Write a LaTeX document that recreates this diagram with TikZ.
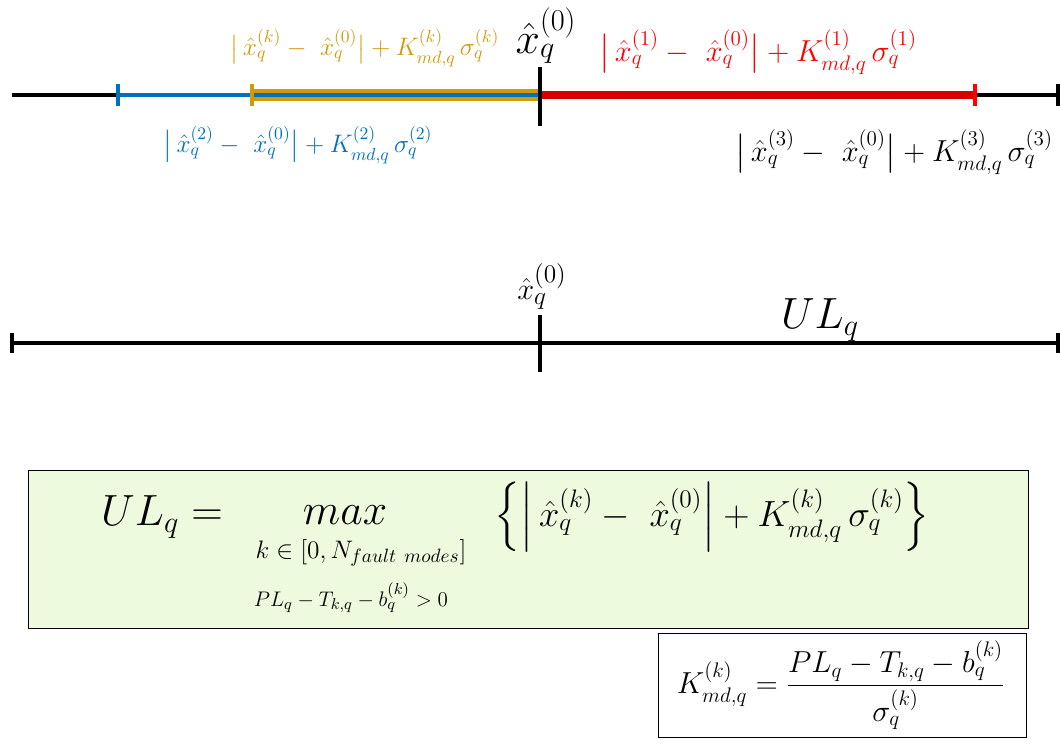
\documentclass[tikz,border=0pt]{standalone}
\usepackage{amsmath,amssymb}
\usepackage{xcolor}
\usepackage{tikz}
\usetikzlibrary{calc,positioning}
\definecolor{bluex}{HTML}{0070C0}
\definecolor{goldx}{HTML}{D09A0C}
\definecolor{redx}{HTML}{D60000}
\definecolor{redt}{HTML}{FF0000}
\definecolor{greenbg}{HTML}{EEFADD}
\newcommand{\devterm}[2][\big]{#1|\,\hat{x}_q^{(#2)}-\ \hat{x}_q^{(0)}#1|+K_{md,q}^{(#2)}\,\sigma_q^{(#2)}}
\tikzset{
  ax/.style={line width=2.3pt,black},
  tk/.style={line width=2.3pt},
  lbl/.style={inner sep=1pt},
  fbox/.style={draw=black,line width=0.8pt}
}
\begin{document}
\begin{tikzpicture}[x=0.02cm,y=-0.02cm]
\useasboundingbox (0,0) rectangle (1060,747);
% top axis
\coordinate (l0) at (12,95);
\coordinate (r0) at (1058,95);
\coordinate (c0) at (540,95);
\coordinate (b2) at (118,95);
\coordinate (bk) at (252,95);
\coordinate (b1) at (975,95);
\draw[ax] (l0) -- (r0);
\draw[line width=6.8pt,goldx] (bk) -- (c0);
\draw[line width=2.3pt,bluex] (b2) -- (c0);
\draw[line width=4.6pt,redx] (c0) -- (b1);
\draw[tk,bluex] ($(b2)+(0,-11)$) -- ($(b2)+(0,11)$);
\draw[tk,goldx] ($(bk)+(0,-11)$) -- ($(bk)+(0,11)$);
\draw[tk,redt] ($(b1)+(0,-11)$) -- ($(b1)+(0,11)$);
\draw[tk] ($(r0)+(0,-11)$) -- ($(r0)+(0,11)$);
\draw[tk] ($(c0)+(0,-28)$) -- ($(c0)+(0,31)$);
\node[lbl,anchor=south] (x0a) at (546,66) {\fontsize{24}{28}\selectfont$\hat{x}_q^{(0)}$};
\node[lbl,text=goldx] (dk) at (365,48) {\fontsize{13.6}{15}\selectfont$\devterm{k}$};
\node[lbl,text=redt] (d1) at (758,52) {\fontsize{18.3}{20}\selectfont$\devterm{1}$};
\node[lbl,text=bluex] (d2) at (298,145) {\fontsize{14.8}{16.5}\selectfont$\devterm{2}$};
\node[lbl] (d3) at (894,152) {\fontsize{18.3}{20}\selectfont$\devterm{3}$};
% bottom axis
\coordinate (l1) at (12,343);
\coordinate (r1) at (1058,343);
\coordinate (c1) at (540,343);
\draw[ax] (l1) -- (r1);
\foreach \p in {l1,r1}{\draw[tk] ($(\p)+(0,-10)$) -- ($(\p)+(0,10)$);}
\draw[tk] ($(c1)+(0,-28)$) -- ($(c1)+(0,29)$);
\node[lbl,anchor=south] (x0b) at (542,312) {\fontsize{19}{23}\selectfont$\hat{x}_q^{(0)}$};
\node[lbl] (ul) at (820,320) {\fontsize{24}{28}\selectfont$UL_q$};
% formula boxes
\node[fbox,fill=greenbg,minimum width=1000*0.02cm,minimum height=158*0.02cm,anchor=north west] (gbox) at (28,470) {};
\node[lbl] (ulq) at (162,517) {\fontsize{25}{30}\selectfont$UL_q=$};
\node[lbl] (mx) at (345,515) {\fontsize{25}{30}\selectfont$max$};
\node[lbl] (cn1) at (361,553) {\fontsize{15.5}{18}\selectfont$k\in[0,N_{fault\ modes}]$};
\node[lbl] (cn2) at (351,598) {\fontsize{13}{16}\selectfont$PL_q-T_{k,q}-b_q^{(k)}>0$};
\node[lbl] (mxarg) at (712,517) {\fontsize{22}{26}\selectfont$\Bigl\{\devterm[\Big]{k}\Bigr\}$};
\node[fbox,minimum width=368*0.02cm,minimum height=104*0.02cm,anchor=north west] (kbox) at (658,633) {};
\node[lbl] (kfrac) at (841,685) {\fontsize{17.8}{21}\selectfont$K_{md,q}^{(k)}=\dfrac{PL_q-T_{k,q}-b_q^{(k)}}{\sigma_q^{(k)}}$};
\end{tikzpicture}
\end{document}
